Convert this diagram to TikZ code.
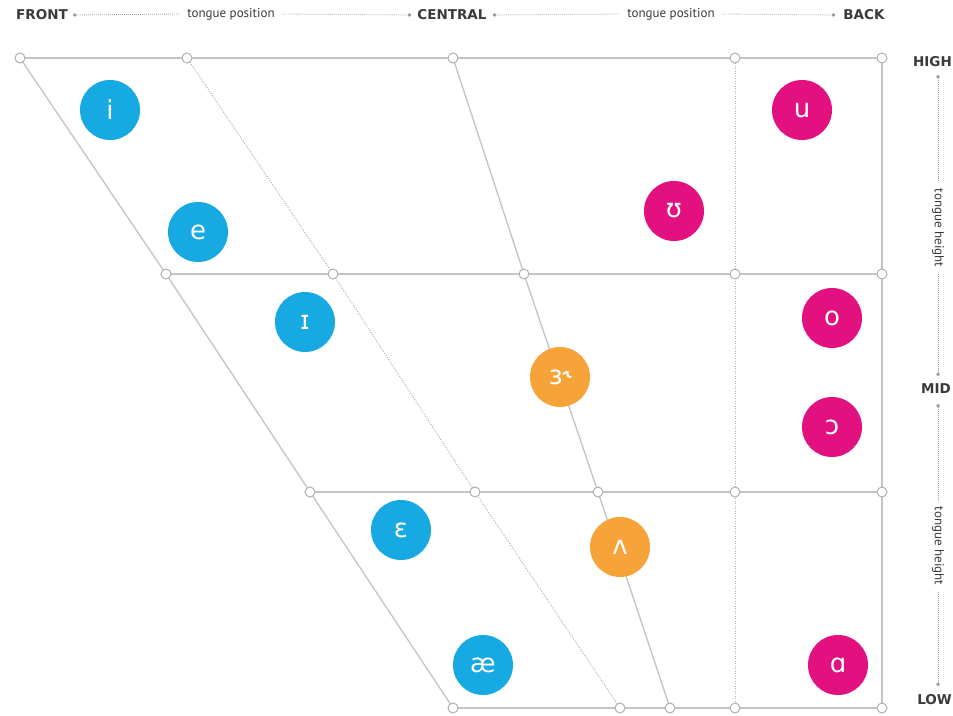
\documentclass[tikz,border=0pt]{standalone}
\usepackage{fontspec}
\setmainfont{DejaVu Sans}
\newfontfamily\labfont{PT Sans}
\usetikzlibrary{arrows.meta}
\definecolor{vblue}{HTML}{17A9E1}
\definecolor{vpink}{HTML}{E2117F}
\definecolor{vorange}{HTML}{F6A43A}
\definecolor{gridgray}{HTML}{C4C4C4}
\definecolor{labgray}{HTML}{3A3A3A}
\definecolor{dotgray}{HTML}{9A9A9A}
\tikzset{
  gridline/.style={draw=gridgray, line width=1.3pt},
  griddot/.style={draw=gridgray!90!black, line width=1pt, dash pattern=on 1pt off 1.5pt},
  junction/.style={circle, draw=gridgray!90!black, fill=white, line width=1pt, minimum size=10pt, inner sep=0pt},
  vowel/.style={circle, minimum size=60pt, inner sep=0pt, text=white, font=\fontsize{26}{26}\selectfont},
  vb/.style={vowel, fill=vblue},
  vp/.style={vowel, fill=vpink},
  vo/.style={vowel, fill=vorange},
  biglab/.style={text=labgray, font=\bfseries\fontsize{13.5}{13.5}\selectfont, inner sep=0pt},
  smalllab/.style={text=labgray, font=\labfont\fontsize{13}{13}\selectfont, inner sep=0pt},
  axisline/.style={draw=dotgray, line width=0.8pt, dash pattern=on 0.8pt off 1.2pt},
  dotend/.style={-{Circle[length=3.5pt, fill=dotgray]}},
  dotstart/.style={{Circle[length=3.5pt, fill=dotgray]}-},
}
\begin{document}
\begin{tikzpicture}[x=1pt, y=-1pt]
\useasboundingbox (0,0) rectangle (953,715);
\fill[white] (0,0) rectangle (953,715);

% grid coordinates
\coordinate (t1) at (20,58);
\coordinate (t2) at (187,58);
\coordinate (t3) at (453,58);
\coordinate (t4) at (735,58);
\coordinate (t5) at (882,58);
\coordinate (m1) at (166,274);
\coordinate (m2) at (333,274);
\coordinate (m3) at (524,274);
\coordinate (m4) at (735,274);
\coordinate (m5) at (882,274);
\coordinate (l1) at (310,492);
\coordinate (l2) at (475,492);
\coordinate (l3) at (598,492);
\coordinate (l4) at (735,492);
\coordinate (l5) at (882,492);
\coordinate (b1) at (453,708);
\coordinate (b2) at (620,708);
\coordinate (b3) at (670,708);
\coordinate (b4) at (735,708);
\coordinate (b5) at (882,708);

% solid lines
\draw[gridline] (t1) -- (t5);
\draw[gridline] (m1) -- (m5);
\draw[gridline] (l1) -- (l5);
\draw[gridline] (b1) -- (b5);
\draw[gridline] (t1) -- (m1) -- (l1) -- (b1);
\draw[gridline] (t3) -- (m3) -- (l3) -- (b3);
\draw[gridline] (t5) -- (m5) -- (l5) -- (b5);
% dotted lines
\draw[griddot] (t2) -- (m2) -- (l2) -- (b2);
\draw[griddot] (t4) -- (m4) -- (l4) -- (b4);

% junctions
\foreach \p in {t1,t2,t3,t4,t5,m1,m2,m3,m4,m5,l1,l2,l3,l4,l5,b1,b2,b3,b4,b5}
  \node[junction] at (\p) {};

% vowels
\node[vb] (vi) at (110,110) {i};
\node[vb] (ve) at (198,232) {e};
\node[vb] (vI) at (305,322) {ɪ};
\node[vb] (vE) at (401,530) {ɛ};
\node[vb] (vae) at (483,665) {æ};
\node[vo] (ver) at (560,377) {ɜ˞};
\node[vo] (vV) at (620,547) {ʌ};
\node[vp] (vu) at (802,110) {u};
\node[vp] (vU) at (674,211) {ʊ};
\node[vp] (vo) at (832,318) {o};
\node[vp] (vO) at (832,427) {ɔ};
\node[vp] (vA) at (838,665) {ɑ};

% top axis labels
\node[biglab] (front) at (42,15) {FRONT};
\node[smalllab] (tp1) at (231,14) {tongue position};
\node[biglab] (central) at (452,15) {CENTRAL};
\node[smalllab] (tp2) at (671,14) {tongue position};
\node[biglab] (back) at (864,15) {BACK};
\draw[axisline, dotstart] ([xshift=5pt]front.east) -- ([xshift=-7pt]tp1.west);
\draw[axisline, dotend] ([xshift=7pt]tp1.east) -- ([xshift=-6pt]central.west);
\draw[axisline, dotstart] ([xshift=6pt]central.east) -- ([xshift=-7pt]tp2.west);
\draw[axisline, dotend] ([xshift=7pt]tp2.east) -- ([xshift=-8pt]back.west);

% right axis labels
\node[biglab, anchor=east] (high) at (952,62) {HIGH};
\node[smalllab, rotate=-90] (th1) at (938,228) {tongue height};
\node[biglab, anchor=east] (mid) at (951,389) {MID};
\node[smalllab, rotate=-90] (th2) at (938,546) {tongue height};
\node[biglab, anchor=east] (low) at (952,700) {LOW};
\coordinate (h1) at (938,75);
\coordinate (h2) at (938,376);
\coordinate (h3) at (938,404);
\coordinate (h4) at (938,686);
\draw[axisline, dotstart] (h1) -- ([yshift=7pt]th1.west);
\draw[axisline, dotend] ([yshift=-7pt]th1.east) -- (h2);
\draw[axisline, dotstart] (h3) -- ([yshift=7pt]th2.west);
\draw[axisline, dotend] ([yshift=-7pt]th2.east) -- (h4);
\end{tikzpicture}
\end{document}
